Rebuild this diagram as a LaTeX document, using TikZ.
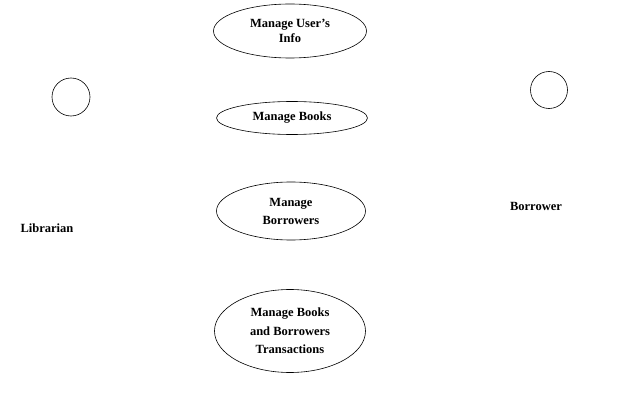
\documentclass[tikz,border=0pt]{standalone}
\usepackage{fontspec}
\setmainfont{Liberation Serif}
\usetikzlibrary{shapes.geometric}
\begin{document}
\begin{tikzpicture}[x=1pt,y=-1pt,
  uc/.style={ellipse,draw,line width=0.6pt,inner sep=0pt,align=center,font=\fontsize{12.5}{16}\selectfont\bfseries},
  actor/.style={circle,draw,line width=0.6pt,inner sep=0pt},
  lbl/.style={font=\fontsize{12.5}{14}\selectfont\bfseries,inner sep=0pt}]
\useasboundingbox (0,0) rectangle (625,420);
\node[uc,minimum width=153pt,minimum height=54pt,font=\fontsize{12.5}{15}\selectfont\bfseries] (info) at (290,31) {Manage User's\\Info};
\node[uc,minimum width=151pt,minimum height=33pt] (books) at (292,118) {Manage Books};
\node[uc,minimum width=149pt,minimum height=58pt,font=\fontsize{12.5}{18}\selectfont\bfseries] (borr) at (291,211) {Manage\\Borrowers};
\node[uc,minimum width=151pt,minimum height=83pt,font=\fontsize{12.5}{18.5}\selectfont\bfseries] (trans) at (290,331) {Manage Books\\and Borrowers\\Transactions};
\node[actor,minimum size=38pt] (libhead) at (71,97) {};
\node[lbl] (lib) at (47,228) {Librarian};
\node[actor,minimum size=37pt] (borhead) at (549,90) {};
\node[lbl] (bor) at (536,206) {Borrower};
\end{tikzpicture}
\end{document}
